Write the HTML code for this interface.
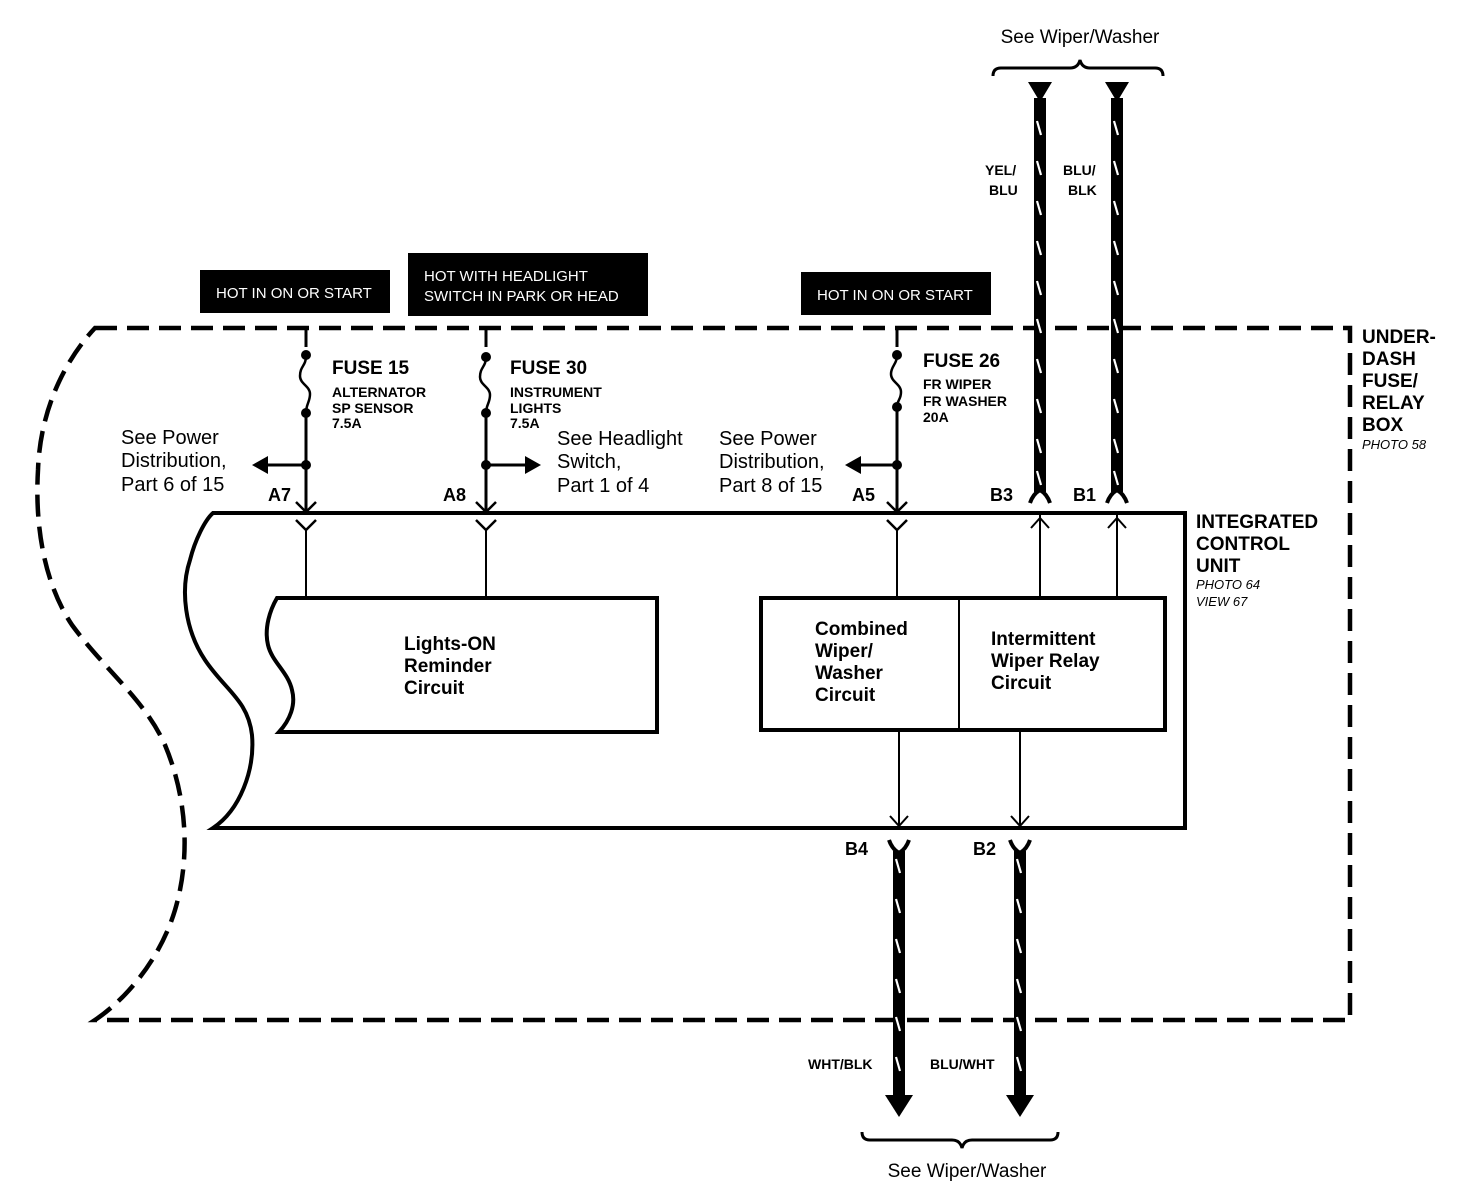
<!DOCTYPE html>
<html><head><meta charset="utf-8"><style>
html,body{margin:0;padding:0;background:#fff;}
svg{display:block;}
text{font-family:"Liberation Sans",Arial,sans-serif;fill:#000;}
.b{font-weight:bold;}
.w{fill:#fff;}
</style></head><body>
<svg width="1472" height="1190" viewBox="0 0 1472 1190" xmlns="http://www.w3.org/2000/svg">
<defs>
<g id="sl"><line x1="-2" y1="-7" x2="2" y2="7" stroke="#fff" stroke-width="2.2"/></g>
</defs>
<!-- dashed outer box -->
<path d="M95,328 L1350,328 L1350,1020 L95,1020 C125,1000 160,960 175,910 C190,860 188,800 165,745 C145,700 105,670 72,625 C42,580 35,520 38,470 C40,410 65,360 95,328 Z" fill="none" stroke="#000" stroke-width="4.5" stroke-dasharray="22,10"/>

<!-- ICU box -->
<path d="M213,513 L1185,513 L1185,828 L213,828 C240,810 255,770 252,735 C248,700 225,690 205,660 C185,630 180,590 190,560 C195,540 205,520 213,513 Z" fill="none" stroke="#000" stroke-width="4"/>
<!-- Lights-ON box -->
<path d="M277,598 L657,598 L657,732 L279,732 C290,720 296,705 292,690 C288,672 272,662 268,645 C264,628 270,610 277,598 Z" fill="none" stroke="#000" stroke-width="4"/>
<!-- Combined box -->
<rect x="761" y="598" width="404" height="132" fill="none" stroke="#000" stroke-width="4"/>
<line x1="959" y1="598" x2="959" y2="730" stroke="#000" stroke-width="2"/>

<!-- labels boxes -->
<rect x="200" y="270" width="190" height="43" fill="#000"/>
<text x="216" y="298" class="w" font-size="15">HOT IN ON OR START</text>
<rect x="408" y="253" width="240" height="63" fill="#000"/>
<text x="424" y="281" class="w" font-size="15">HOT WITH HEADLIGHT</text>
<text x="424" y="301" class="w" font-size="15">SWITCH IN PARK OR HEAD</text>
<rect x="801" y="272" width="190" height="43" fill="#000"/>
<text x="817" y="300" class="w" font-size="15">HOT IN ON OR START</text>

<!-- wires thin -->
<g stroke="#000" fill="none">
<line x1="306" y1="328" x2="306" y2="347" stroke-width="3"/>
<path d="M306,356 C306,366 300,366 300,376 C300,384 310,386 310,394 C310,402 306,404 306,413" stroke-width="2.5"/>
<line x1="306" y1="413" x2="306" y2="512" stroke-width="3"/>
<line x1="306" y1="465" x2="265" y2="465" stroke-width="3"/>
<path d="M296,502 L306,512 L316,502 M296,520 L306,530 L316,520" stroke-width="2.5"/>
<line x1="306" y1="530" x2="306" y2="598" stroke-width="2"/>

<line x1="486" y1="328" x2="486" y2="347" stroke-width="3"/>
<path d="M486,357 C486,367 480,367 480,377 C480,385 490,387 490,395 C490,403 486,405 486,413" stroke-width="2.5"/>
<line x1="486" y1="413" x2="486" y2="512" stroke-width="3"/>
<line x1="486" y1="465" x2="528" y2="465" stroke-width="3"/>
<path d="M476,502 L486,512 L496,502 M476,520 L486,530 L496,520" stroke-width="2.5"/>
<line x1="486" y1="530" x2="486" y2="598" stroke-width="2"/>

<line x1="897" y1="328" x2="897" y2="347" stroke-width="3"/>
<path d="M897,356 C897,364 891,366 891,374 C891,382 901,384 901,392 C901,400 897,400 897,407" stroke-width="2.5"/>
<line x1="897" y1="407" x2="897" y2="512" stroke-width="3"/>
<line x1="897" y1="465" x2="858" y2="465" stroke-width="3"/>
<path d="M887,502 L897,512 L907,502 M887,520 L897,530 L907,520" stroke-width="2.5"/>
<line x1="897" y1="530" x2="897" y2="598" stroke-width="2"/>

<line x1="1040" y1="515" x2="1040" y2="598" stroke-width="2"/>
<path d="M1031,528 L1040,518 L1049,528" stroke-width="2"/>
<line x1="1117" y1="515" x2="1117" y2="598" stroke-width="2"/>
<path d="M1108,528 L1117,518 L1126,528" stroke-width="2"/>
<line x1="899" y1="730" x2="899" y2="826" stroke-width="2"/>
<path d="M890,816 L899,826 L908,816" stroke-width="2"/>
<line x1="1020" y1="730" x2="1020" y2="826" stroke-width="2"/>
<path d="M1011,816 L1020,826 L1029,816" stroke-width="2"/>

<!-- forks on thick wires -->
<path d="M1030,503 Q1033,494 1040,490 Q1047,494 1050,503" stroke-width="4"/>
<path d="M1107,503 Q1110,494 1117,490 Q1124,494 1127,503" stroke-width="4"/>
<path d="M889,840 Q892,849 899,853 Q906,849 909,840" stroke-width="4"/>
<path d="M1010,840 Q1013,849 1020,853 Q1027,849 1030,840" stroke-width="4"/>
</g>
<g fill="#000">
<circle cx="306" cy="355" r="5"/><circle cx="306" cy="413" r="5"/><circle cx="306" cy="465" r="5"/>
<circle cx="486" cy="357" r="5"/><circle cx="486" cy="413" r="5"/><circle cx="486" cy="465" r="5"/>
<circle cx="897" cy="355" r="5"/><circle cx="897" cy="407" r="5"/><circle cx="897" cy="465" r="5"/>
<polygon points="252,465 268,456 268,474"/>
<polygon points="541,465 525,456 525,474"/>
<polygon points="845,465 861,456 861,474"/>
</g>

<!-- thick wires -->
<g fill="#000" stroke="none">
<polygon points="1028,82 1052,82 1040,102"/>
<rect x="1034" y="98" width="12" height="394"/>
<polygon points="1105,82 1129,82 1117,102"/>
<rect x="1111" y="98" width="12" height="394"/>
<rect x="893" y="851" width="12" height="244"/>
<polygon points="885,1095 913,1095 899,1117"/>
<rect x="1014" y="851" width="12" height="244"/>
<polygon points="1006,1095 1034,1095 1020,1117"/>
</g>
<g>
<use href="#sl" x="1039" y="128"/><use href="#sl" x="1039" y="168"/><use href="#sl" x="1039" y="208"/><use href="#sl" x="1039" y="248"/><use href="#sl" x="1039" y="288"/><use href="#sl" x="1039" y="326"/><use href="#sl" x="1039" y="366"/><use href="#sl" x="1039" y="406"/><use href="#sl" x="1039" y="446"/><use href="#sl" x="1039" y="478"/>
<use href="#sl" x="1116" y="128"/><use href="#sl" x="1116" y="168"/><use href="#sl" x="1116" y="208"/><use href="#sl" x="1116" y="248"/><use href="#sl" x="1116" y="288"/><use href="#sl" x="1116" y="326"/><use href="#sl" x="1116" y="366"/><use href="#sl" x="1116" y="406"/><use href="#sl" x="1116" y="446"/><use href="#sl" x="1116" y="478"/>
<use href="#sl" x="898" y="866"/><use href="#sl" x="898" y="906"/><use href="#sl" x="898" y="946"/><use href="#sl" x="898" y="986"/><use href="#sl" x="898" y="1024"/><use href="#sl" x="898" y="1064"/>
<use href="#sl" x="1019" y="866"/><use href="#sl" x="1019" y="906"/><use href="#sl" x="1019" y="946"/><use href="#sl" x="1019" y="986"/><use href="#sl" x="1019" y="1024"/><use href="#sl" x="1019" y="1064"/>
</g>

<!-- braces -->
<path d="M993,76 Q993,68 1001,68 L1070,68 Q1078,68 1080,60 Q1082,68 1090,68 L1155,68 Q1163,68 1163,76" fill="none" stroke="#000" stroke-width="3"/>
<path d="M862,1132 Q862,1140 870,1140 L952,1140 Q960,1140 962,1148 Q964,1140 972,1140 L1050,1140 Q1058,1140 1058,1132" fill="none" stroke="#000" stroke-width="3"/>
<text x="1080" y="43" font-size="19" text-anchor="middle">See Wiper/Washer</text>
<text x="967" y="1177" font-size="19" text-anchor="middle">See Wiper/Washer</text>

<text x="332" y="374" class="b" font-size="19">FUSE 15</text>
<text x="332" y="397" class="b" font-size="14">ALTERNATOR</text>
<text x="332" y="413" class="b" font-size="14">SP SENSOR</text>
<text x="332" y="428" class="b" font-size="14">7.5A</text>
<text x="510" y="374" class="b" font-size="19">FUSE 30</text>
<text x="510" y="397" class="b" font-size="14">INSTRUMENT</text>
<text x="510" y="413" class="b" font-size="14">LIGHTS</text>
<text x="510" y="428" class="b" font-size="14">7.5A</text>
<text x="923" y="367" class="b" font-size="19">FUSE 26</text>
<text x="923" y="389" class="b" font-size="14">FR WIPER</text>
<text x="923" y="406" class="b" font-size="14">FR WASHER</text>
<text x="923" y="422" class="b" font-size="14">20A</text>

<g font-size="20">
<text x="121" y="444">See Power</text>
<text x="121" y="467">Distribution,</text>
<text x="121" y="491">Part 6 of 15</text>
<text x="557" y="445">See Headlight</text>
<text x="557" y="468">Switch,</text>
<text x="557" y="492">Part 1 of 4</text>
<text x="719" y="445">See Power</text>
<text x="719" y="468">Distribution,</text>
<text x="719" y="492">Part 8 of 15</text>
</g>
<g class="b" font-size="18">
<text x="268" y="501">A7</text>
<text x="443" y="501">A8</text>
<text x="852" y="501">A5</text>
<text x="990" y="501">B3</text>
<text x="1073" y="501">B1</text>
<text x="845" y="855">B4</text>
<text x="973" y="855">B2</text>
</g>
<g class="b" font-size="14">
<text x="985" y="175">YEL/</text>
<text x="989" y="195">BLU</text>
<text x="1063" y="175">BLU/</text>
<text x="1068" y="195">BLK</text>
<text x="808" y="1069">WHT/BLK</text>
<text x="930" y="1069">BLU/WHT</text>
</g>
<g class="b" font-size="19">
<text x="404" y="650">Lights-ON</text>
<text x="404" y="672">Reminder</text>
<text x="404" y="694">Circuit</text>
<text x="815" y="635">Combined</text>
<text x="815" y="657">Wiper/</text>
<text x="815" y="679">Washer</text>
<text x="815" y="701">Circuit</text>
<text x="991" y="645">Intermittent</text>
<text x="991" y="667">Wiper Relay</text>
<text x="991" y="689">Circuit</text>
<text x="1362" y="343">UNDER-</text>
<text x="1362" y="365">DASH</text>
<text x="1362" y="387">FUSE/</text>
<text x="1362" y="409">RELAY</text>
<text x="1362" y="431">BOX</text>
<text x="1196" y="528">INTEGRATED</text>
<text x="1196" y="550">CONTROL</text>
<text x="1196" y="572">UNIT</text>
</g>
<g font-size="13" font-style="italic">
<text x="1362" y="449">PHOTO 58</text>
<text x="1196" y="589">PHOTO 64</text>
<text x="1196" y="606">VIEW 67</text>
</g>
</svg>
</body></html>
